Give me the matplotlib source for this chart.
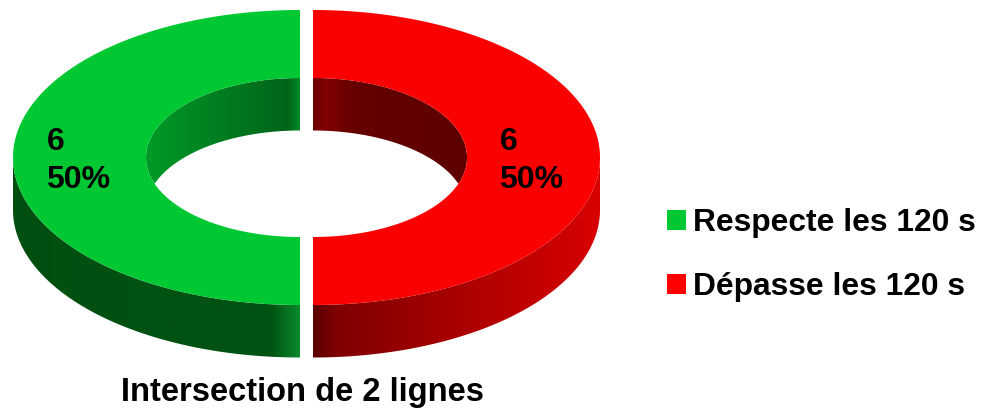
import numpy as np
import matplotlib
matplotlib.use("Agg")
import matplotlib.pyplot as plt
from matplotlib.colors import LinearSegmentedColormap
from matplotlib.patches import Patch, Polygon

plt.rcParams["font.family"] = ["Liberation Sans", "DejaVu Sans"]
plt.rcParams["font.weight"] = "bold"

# chart data, slices run clockwise from the bottom
categories = ["Respecte les 120 s", "Dépasse les 120 s"]
values = [6, 6]
title = "Intersection de 2 lignes"

top_colors = ["#00c832", "#fa0000"]
legend_colors = ["#00c832", "#ff0000"]
# gradient stops for the walls, as (fraction across the half, colour)
outer_stops = [
    [(0, "#004f10"), (0.40, "#005212"), (0.90, "#005212"), (1, "#0a8a2c")],
    [(0, "#5a0000"), (0.08, "#7f0000"), (0.55, "#ae0000"), (1, "#d80000")],
]
inner_stops = [
    [(0, "#009a28"), (0.92, "#006418"), (1, "#008a26")],
    [(0, "#6a0000"), (0.08, "#800000"), (0.28, "#640000"), (1, "#5e0000")],
]

# layout in pixels
center_x, center_y = 306.5, 157.5
outer_a, outer_b = 287, 147.5
inner_a, inner_b = 154, 79.5
depth = 52.5
explode = 6.5
label_x = [46.5, 499.5]
label_y = 161


def arc(a, b, cx, cy, start, end, n=400):
    t = np.radians(np.linspace(start, end, n))
    return np.column_stack([cx + a * np.sin(t), cy - b * np.cos(t)])


def paint(ax, points, stops, x0, x1):
    # horizontal gradient clipped to a polygon
    cmap = LinearSegmentedColormap.from_list("wall", stops)
    grad = np.linspace(0, 1, 512).reshape(1, -1)
    img = ax.imshow(grad, cmap=cmap, extent=[x0, x1, 420, -10], aspect="auto", interpolation="bilinear")
    img.set_clip_path(Polygon(points, closed=True, transform=ax.transData))


fig = plt.figure(figsize=(9.86, 4.08), dpi=100)
ax = fig.add_axes([0, 0, 1, 1])

total = sum(values)
spans = [360 * v / total for v in values]
starts = [180, 180 + spans[0]]

for i, v in enumerate(values):
    start, end = starts[i], starts[i] + spans[i]
    mid = np.radians((start + end) / 2)
    cx = center_x + explode * np.sin(mid)
    left = np.sin(mid) < 0
    x_far = cx - outer_a if left else cx
    x_near = cx if left else cx + outer_a
    x_in0 = cx - inner_a if left else cx
    x_in1 = cx if left else cx + inner_a

    # outer wall, only the front half of the rim shows
    rim = arc(outer_a, outer_b, cx, center_y, start, end)
    front = rim[rim[:, 1] >= center_y]
    wall = np.vstack([front, (front + [0, depth])[::-1]])
    paint(ax, wall, outer_stops[i], x_far, x_near)

    # inner wall, then the hole seen through it
    hole = arc(inner_a, inner_b, cx, center_y, start, end)
    paint(ax, hole, inner_stops[i], x_in0, x_in1)
    ax.add_patch(Polygon(arc(inner_a, inner_b, cx, center_y + depth, start, end), closed=True, fc="white", ec="none"))

    # top face
    face = np.vstack([rim, arc(inner_a, inner_b, cx, center_y, end, start)])
    ax.add_patch(Polygon(face, closed=True, fc=top_colors[i], ec="none"))

    ax.text(label_x[i], label_y, f"{v}\n{100 * v / total:.0f}%", fontsize=23, ha="left", va="center",
            linespacing=1.36, color="black")

handles = [Patch(fc=c, ec="none") for c in legend_colors]
ax.legend(handles, categories, loc="center left", bbox_to_anchor=(661 / 986, 1 - 255 / 408), frameon=False,
          fontsize=22.9, handlelength=0.6, handleheight=0.6, handletextpad=0.22, labelspacing=1.07,
          borderpad=0.2, borderaxespad=0)

ax.text(302.5, 392, title, fontsize=23.5, ha="center", va="center", color="black")

ax.set_xlim(0, 986)
ax.set_ylim(408, 0)
ax.axis("off")
fig.savefig("out.png", dpi=100)
